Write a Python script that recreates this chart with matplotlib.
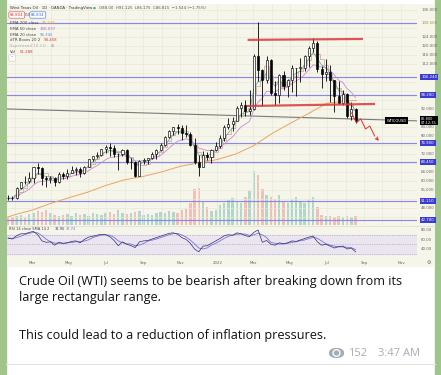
import matplotlib
matplotlib.use("Agg")
import matplotlib.pyplot as plt
import matplotlib.dates as mdates
from matplotlib.patches import Rectangle, Ellipse, Circle
import numpy as np
import pandas as pd

W, H = 441, 375

# weekly OHLC of West Texas Oil (OANDA)
weeks = pd.date_range("2021-01-18", periods=83, freq="W-MON")
opens = [52.4, 52.3, 52.2, 57.0, 59.5, 59.8, 61.5, 66.1, 65.6, 61.4, 60.9, 61.5, 59.3, 63.1, 62.1, 63.6,
         64.9, 65.4, 63.6, 66.3, 69.6, 71.0, 71.6, 74.1, 75.2, 74.6, 71.8, 72.0, 73.8, 68.2, 68.4, 62.2,
         68.8, 69.3, 70.0, 71.9, 73.9, 75.9, 79.4, 82.3, 83.8, 83.6, 81.2, 80.7, 76.0, 68.2, 66.3, 71.7,
         70.8, 73.7, 75.3, 78.9, 84.0, 85.1, 86.8, 92.2, 93.7, 91.0, 91.9, 115.7, 109.3, 104.7, 113.9,
         99.2, 98.3, 106.9, 102.0, 104.7, 110.0, 110.3, 110.3, 115.5, 119.1, 121.1, 109.8, 107.5, 108.4,
         104.7, 97.6, 94.8, 98.6, 89.0, 92.0]
highs = [53.9, 53.5, 57.3, 59.5, 62.3, 63.8, 66.4, 67.9, 66.4, 62.2, 62.2, 61.9, 64.0, 64.1, 65.5, 66.7,
         66.4, 66.1, 66.8, 69.8, 71.2, 72.9, 74.3, 76.0, 76.9, 75.9, 72.4, 74.3, 74.2, 70.0, 68.9, 69.2,
         70.2, 70.4, 72.9, 74.2, 76.7, 80.1, 82.7, 83.9, 85.4, 84.9, 84.9, 81.7, 79.1, 71.4, 73.3, 73.0,
         74.3, 77.2, 80.3, 84.8, 87.9, 88.6, 93.2, 94.9, 95.8, 100.5, 116.6, 130.5, 109.7, 115.5, 114.4,
         104.3, 107.7, 108.7, 105.3, 111.4, 110.4, 114.7, 115.9, 119.9, 123.7, 122.1, 111.2, 114.1, 111.5,
         104.9, 104.2, 100.4, 99.0, 95.0, 92.4]
lows = [51.4, 51.5, 51.8, 56.5, 58.6, 59.2, 59.2, 63.1, 58.3, 57.3, 58.9, 57.6, 58.9, 60.9, 61.0, 63.6,
        62.8, 61.6, 63.2, 66.0, 68.7, 70.2, 71.2, 72.4, 71.0, 70.8, 65.0, 71.0, 67.6, 65.2, 61.8, 62.0,
        67.6, 67.5, 69.7, 69.9, 73.1, 75.4, 78.9, 80.5, 81.0, 78.3, 79.6, 75.3, 67.4, 62.4, 66.1, 69.4,
        67.9, 73.3, 74.6, 77.9, 83.1, 82.2, 86.5, 88.2, 89.0, 89.5, 91.7, 104.3, 93.5, 103.4, 98.4,
        93.9, 94.5, 100.6, 97.4, 99.7, 97.8, 103.9, 108.8, 110.7, 117.4, 108.2, 101.5, 104.6, 95.1,
        90.6, 94.4, 93.6, 87.9, 87.1, 85.7]
closes = [52.3, 52.2, 56.9, 59.5, 59.3, 61.5, 66.1, 65.6, 61.4, 60.9, 61.5, 59.3, 63.1, 62.1, 63.6, 64.9,
          65.4, 63.6, 66.3, 69.6, 71.0, 71.6, 74.1, 75.2, 74.6, 71.8, 72.0, 73.8, 68.2, 68.4, 62.2, 68.8,
          69.3, 70.0, 71.9, 73.9, 75.9, 79.4, 82.3, 83.8, 83.6, 81.2, 80.7, 76.0, 68.2, 66.3, 71.7, 70.8,
          73.7, 75.3, 78.9, 84.0, 85.1, 86.8, 92.2, 93.7, 91.0, 91.9, 115.7, 109.3, 104.7, 113.9, 99.2,
          98.3, 106.9, 102.0, 104.7, 110.0, 110.3, 110.3, 115.5, 119.1, 121.1, 109.8, 107.5, 108.4, 104.7,
          97.6, 94.8, 98.6, 89.0, 92.0, 86.8]
volume = [7, 8, 9, 10, 8, 11, 12, 14, 13, 15, 12, 10, 9, 10, 11, 9, 12, 10, 11, 9, 12, 11, 10, 12, 13,
          11, 15, 12, 11, 12, 13, 14, 10, 11, 10, 12, 13, 12, 14, 13, 12, 15, 16, 22, 36, 37, 24, 18, 14,
          15, 20, 22, 25, 27, 24, 22, 28, 34, 54, 50, 36, 30, 28, 26, 30, 24, 22, 26, 28, 24, 22, 26, 28,
          18, 10, 9, 9, 8, 9, 8, 9, 8, 9]
rsi_vals = [63, 61, 68, 72, 72, 75, 77, 70, 57, 54, 55, 48, 54, 52, 53, 56, 57, 53, 60, 65, 67, 69, 71,
            70, 66, 58, 47, 55, 50, 47, 43, 55, 57, 58, 61, 64, 67, 70, 73, 74, 71, 64, 60, 52, 40, 34,
            46, 47, 52, 57, 62, 68, 70, 69, 74, 72, 68, 66, 75, 80, 54, 58, 50, 48, 53, 51, 53, 57, 56,
            59, 62, 65, 67, 55, 48, 50, 46, 42, 45, 46, 40, 42, 34]

ema200_dates = pd.to_datetime(["2021-01-18", "2021-02-01", "2021-03-01", "2021-04-01", "2021-05-01",
                               "2021-06-01", "2021-07-01", "2021-08-01", "2021-09-01", "2021-10-01",
                               "2021-11-01", "2021-12-01", "2022-01-01", "2022-02-01", "2022-03-01",
                               "2022-04-01", "2022-05-01", "2022-06-01", "2022-07-01", "2022-08-01",
                               "2022-08-19"])
ema200 = [43.8, 45.0, 47.0, 50.0, 52.5, 55.0, 58.0, 60.5, 62.0, 64.0, 66.5, 68.0, 69.5, 72.0, 75.5,
          81.0, 85.5, 90.0, 94.5, 95.5, 95.8]

# drawn levels
levels = [130.0, 106.2, 98.2, 76.9, 68.4, 51.1, 42.7]
level_tags = ["", "106.240", "98.200", "76.900", "68.450", "51.110", "42.700"]
trend_dates = pd.to_datetime(["2021-01-18", "2022-11-27"])
trend_prices = [92.0, 86.7]
range_top_dates = pd.to_datetime(["2022-02-22", "2022-08-28"])
range_top = [122.7, 123.1]
range_bot_dates = pd.to_datetime(["2022-02-21", "2022-09-17"])
range_bot = [93.3, 94.2]
path_dates = pd.to_datetime(["2022-08-11", "2022-08-19", "2022-08-26", "2022-09-03", "2022-09-10",
                             "2022-09-18"])
path_prices = [90.2, 85.8, 87.6, 83.1, 84.4, 80.0]
arrow_end = (pd.Timestamp("2022-09-28"), 76.9)

price_ticks = np.arange(44, 137, 4)
month_ticks = pd.date_range("2021-03-01", "2022-11-01", freq="2MS")
month_labels = ["Mar", "May", "Jul", "Sep", "Nov", "2022", "Mar", "May", "Jul", "Sep", "Nov"]


def rect(x0, y0, x1, y1):
    return [x0 / W, 1 - y1 / H, (x1 - x0) / W, (y1 - y0) / H]


def ftxt(x, y, s, **kw):
    kw.setdefault("va", "center")
    return fig.text(x / W, 1 - y / H, s, **kw)


fig = plt.figure(figsize=(W / 100, H / 100), dpi=100)
fig.patch.set_facecolor("white")
fig.add_artist(Rectangle((0, 0), 6 / W, 1, transform=fig.transFigure, color="#9fc58d", zorder=0))
fig.add_artist(Rectangle((435 / W, 0), 6 / W, 1, transform=fig.transFigure, color="#9fc58d", zorder=0))

bg = fig.add_axes(rect(7, 4, 435, 267))
bg.set_facecolor("#f6f5ea")
bg.set_xticks([])
bg.set_yticks([])
for s in bg.spines.values():
    s.set_visible(False)

xc = mdates.date2num(weeks + pd.Timedelta(days=2.5))
xlim = (mdates.date2num(pd.Timestamp("2021-01-18 17:00")), mdates.date2num(pd.Timestamp("2022-11-27")))
o, hi, lo, c = map(np.array, (opens, highs, lows, closes))
up = c >= o

# volume behind price
axv = fig.add_axes(rect(7, 5, 417, 225))
axv.set_facecolor("none")
axv.bar(xc, volume, width=4.0, color=np.where(up, "#93cbbd", "#eeaaa0"), alpha=0.7, linewidth=0)
axv.set_xlim(*xlim)
axv.set_ylim(0, max(volume) * 4.07)
axv.axis("off")

ax = fig.add_axes(rect(7, 5, 417, 225))
ax.set_facecolor("none")
ax.set_xlim(*xlim)
ax.set_ylim(40.4, 138.2)
for s in ax.spines.values():
    s.set_visible(False)
ax.set_xticks(mdates.date2num(pd.date_range("2021-02-01", "2022-11-01", freq="MS")))
ax.set_xticklabels([])
ax.yaxis.tick_right()
busy = levels + [closes[-1]]
ax.set_yticks(price_ticks)
ax.set_yticklabels(["" if min(abs(v - b) for b in busy) < 2.6 else f"{v:.3f}" for v in price_ticks])
ax.tick_params(axis="both", length=0, labelsize=2.8, labelcolor="#666666", pad=3)
ax.grid(color="#e9e7dc", linewidth=0.5)
ax.set_axisbelow(True)

for lv, tag in zip(levels, level_tags):
    ax.axhline(lv, color="#8a8ae6", linewidth=0.85, zorder=2)
    if tag:
        ax.text(1.01, lv, tag, transform=ax.get_yaxis_transform(), fontsize=2.8, color="white",
                va="center", ha="left", bbox=dict(boxstyle="square,pad=0.3", fc="#3b3bd1", ec="none"))
ax.text(1.01, levels[0], "130.500", transform=ax.get_yaxis_transform(), fontsize=2.8,
        color="#a08a40", va="center", ha="left")

ax.plot(mdates.date2num(trend_dates), trend_prices, color="#7a7a7a", linewidth=0.8, zorder=2)

# moving averages
ema20 = pd.Series(closes).ewm(span=4, adjust=False).mean()
ema50 = pd.Series(closes).ewm(span=10, adjust=False).mean()
boxes = pd.Series(closes).rolling(4, min_periods=1).mean()
ax.plot(mdates.date2num(ema200_dates), ema200, color="#e9a55e", linewidth=0.7, zorder=3)
ax.step(xc, boxes, where="mid", color="#d8aaa0", linewidth=0.6, zorder=3)
ax.plot(xc, ema50, color="#c58ad8", linewidth=0.6, zorder=3)
ax.plot(xc, ema20, color="#6fae9a", linewidth=0.6, zorder=3)

# candles
ax.vlines(xc, lo, hi, color="black", linewidth=0.6, zorder=4)
ax.bar(xc, np.maximum(np.abs(c - o), 0.3), bottom=np.minimum(o, c), width=3.4,
       color=np.where(up, "white", "black"), edgecolor="black", linewidth=0.45, zorder=5)

# rectangle range and projected path
ax.plot(mdates.date2num(range_top_dates), range_top, color="#d83a3a", linewidth=1.6, alpha=0.85, zorder=6)
ax.plot(mdates.date2num(range_bot_dates), range_bot, color="#d83a3a", linewidth=1.6, alpha=0.85, zorder=6)
ax.plot(mdates.date2num(path_dates), path_prices, color="#e03030", linewidth=0.7, zorder=6)
ax.annotate("", xy=(mdates.date2num(arrow_end[0]), arrow_end[1]),
            xytext=(mdates.date2num(path_dates[-1]), path_prices[-1]),
            arrowprops=dict(arrowstyle="->", color="#e03030", lw=0.7, mutation_scale=5), zorder=6)

# last price tag
ax.text(0.975, closes[-1], "WTICOUSD", transform=ax.get_yaxis_transform(), fontsize=2.6, color="white",
        va="center", ha="right", bbox=dict(boxstyle="square,pad=0.35", fc="black", ec="none"))
ax.text(1.01, closes[-1], f"{closes[-1]:.3f}\n07:12:35", transform=ax.get_yaxis_transform(),
        fontsize=2.5, color="white", va="center", ha="left", linespacing=1.0,
        bbox=dict(boxstyle="square,pad=0.25", fc="black", ec="none"))

# RSI pane
rs = fig.add_axes(rect(7, 226, 417, 258))
rs.set_facecolor("none")
rs.set_xlim(*xlim)
rs.set_ylim(21, 88.4)
rs.axhspan(30, 70, color="#ebe5f0", zorder=0)
for lv in (70, 50, 30):
    rs.axhline(lv, color="#9a94b0", linewidth=0.4, linestyle=(0, (2, 2)), zorder=1)
rs.plot(xc, rsi_vals, color="#2d2d6b", linewidth=0.5, zorder=3)
rs.plot(xc, pd.Series(rsi_vals).rolling(3, min_periods=1).mean(), color="#7b6fdc", linewidth=0.6, zorder=2)
for s in rs.spines.values():
    s.set_visible(False)
rs.yaxis.tick_right()
rs.set_yticks([40, 60, 80])
rs.set_yticklabels(["40.00", "60.00", "80.00"])
rs.set_xticks(mdates.date2num(month_ticks))
rs.set_xticklabels(month_labels)
rs.tick_params(axis="both", length=0, labelsize=2.8, labelcolor="#666666", pad=3)
rs.tick_params(axis="x", pad=2)
fig.add_artist(plt.Line2D([7 / W, 435 / W], [1 - 226 / H] * 2, color="#dedccf", linewidth=0.5))
ftxt(429, 262, "\u2699", fontsize=3.5, color="#666666", ha="center")

# legend block
ftxt(10, 8, "West Texas Oil \u00b7 1D \u00b7 OANDA \u00b7 TradingView", fontsize=2.8, color="#333333")
ftxt(93, 8, "\u25cf", fontsize=2.4, color="#26a69a")
ftxt(99, 8, "O88.00  H91.125  L86.175  C86.815  \u22121.544 (\u22121.75%)", fontsize=2.8, color="#555555")
ftxt(10, 15, "86.804", fontsize=2.8, color="#d83a3a",
     bbox=dict(boxstyle="round,pad=0.3", fc="white", ec="#d83a3a", lw=0.4))
ftxt(25, 15, "0.0", fontsize=2.8, color="#555555")
ftxt(31, 15, "86.834", fontsize=2.8, color="#3b6fd1",
     bbox=dict(boxstyle="round,pad=0.3", fc="white", ec="#3b6fd1", lw=0.4))
legend_rows = [("EMA 200 close", "95.333", "#d9a020"), ("EMA 50 close", "100.037", "#b060d0"),
               ("EMA 20 close", "96.345", "#5a8ad0"), ("dTR Boxes 20 2", "94.458", "#d83a3a"),
               ("Supertrend 10 3.0", "\u2298", "#888888"), ("Vol", "51.288", "#d83a3a")]
for k, (name, val, col) in enumerate(legend_rows):
    y = 23 + k * 5.8
    ftxt(10, y, name, fontsize=2.8, color="#aaaaaa" if k == 4 else "#444444")
    ftxt(10 + len(name) * 2.2 + 3, y, val, fontsize=2.8, color=col)
ftxt(10, 58, " \u02c4 ", fontsize=2.8, color="#444444",
     bbox=dict(boxstyle="round,pad=0.3", fc="white", ec="#cccccc", lw=0.4))
ftxt(9, 229, "RSI 14 close SMA 14 2", fontsize=2.6, color="#444444")
ftxt(55, 229, "32.95", fontsize=2.6, color="#2d2d6b")
ftxt(66, 229, "37.74", fontsize=2.6, color="#7b6fdc")

# message text
msg = dict(fontsize=9.1, family="Open Sans", color="#111111")
ftxt(19, 281, "Crude Oil (WTI) seems to be bearish after breaking down from its", **msg)
ftxt(19, 298, "large rectangular range.", **msg)
ftxt(19, 336, "This could lead to a reduction of inflation pressures.", **msg)

eye = fig.add_axes(rect(329, 348, 344, 358))
eye.set_xlim(-1.1, 1.1)
eye.set_ylim(-0.75, 0.75)
eye.add_patch(Ellipse((0, 0), 2.1, 1.35, color="#a5aeb7"))
eye.add_patch(Circle((0, 0), 0.5, color="white"))
eye.add_patch(Circle((0, 0), 0.3, color="#a5aeb7"))
eye.axis("off")
ftxt(348, 353, "152", fontsize=8, family="Open Sans", color="#a5aeb7")
ftxt(378, 353, "3:47 AM", fontsize=8, family="Open Sans", color="#a5aeb7")
fig.add_artist(plt.Line2D([6 / W, 435 / W], [1 - 364 / H] * 2, color="#e4e4e4", linewidth=0.8))

fig.savefig("out.png", dpi=100)
